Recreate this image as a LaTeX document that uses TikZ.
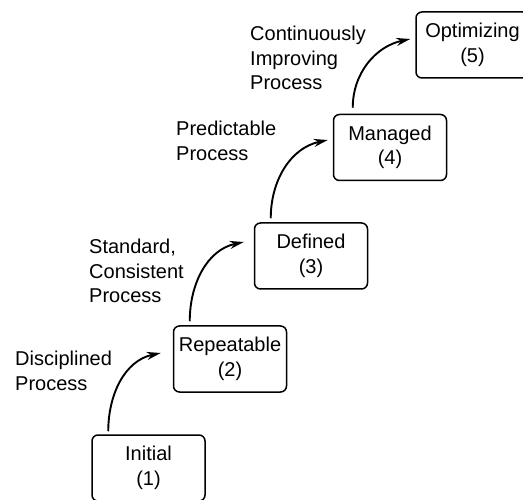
\documentclass[tikz,border=0pt]{standalone}
\usepackage{fontspec}
\setmainfont{Liberation Sans}
\usetikzlibrary{arrows.meta}

\begin{document}
\begin{tikzpicture}[x=1pt,y=-1pt,
  every node/.style={font=\fontsize{20}{24.5}\selectfont, inner sep=0pt},
  level/.style={draw, line width=1.5pt, rounded corners=6pt, align=center,
                minimum width=113pt, minimum height=66pt},
  phase/.style={align=left, anchor=north west},
  climb/.style={line width=1.9pt, -{Stealth[length=14pt,width=8pt,inset=4.5pt]}}
]
\useasboundingbox (0,0) rectangle (523,500);

% maturity levels
\node[level] (ini) at (148.5,468) {Initial\\(1)};
\node[level] (rep) at (230,359) {Repeatable\\(2)};
\node[level] (def) at (311,256) {Defined\\(3)};
\node[level] (man) at (390,147.5) {Managed\\(4)};
\node[level] (opt) at (472.5,45) {Optimizing\\(5)};

% process characteristics between levels
\node[phase] (p1) at (15,351) {Disciplined\\Process};
\node[phase] (p2) at (89,239) {Standard,\\Consistent\\Process};
\node[phase] (p3) at (176,121) {Predictable\\Process};
\node[phase] (p4) at (250,26) {Continuously\\Improving\\Process};

% transitions
\draw[climb] ([xshift=17pt,yshift=3pt]ini.north west)
  to[out=90,in=192] ([xshift=-12pt,yshift=6pt]rep.west);
\draw[climb] ([xshift=17pt,yshift=4pt]rep.north west)
  to[out=90,in=192] ([xshift=-10pt,yshift=14pt]def.west);
\draw[climb] ([xshift=17pt,yshift=4pt]def.north west)
  to[out=90,in=192] ([xshift=-5pt,yshift=7.5pt]man.west);
\draw[climb] ([xshift=20pt,yshift=6pt]man.north west)
  to[out=90,in=192] ([xshift=-5pt,yshift=6pt]opt.west);
\end{tikzpicture}
\end{document}
